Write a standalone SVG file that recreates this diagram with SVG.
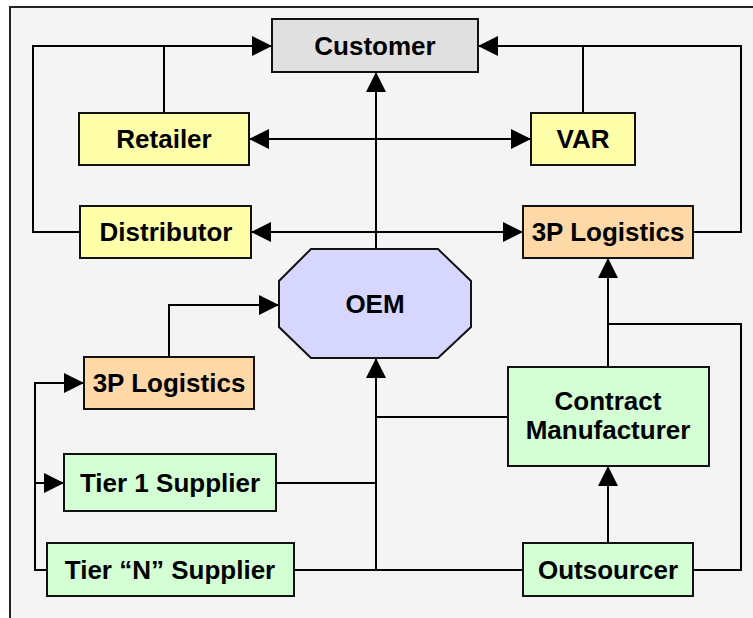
<svg xmlns="http://www.w3.org/2000/svg" width="753" height="618" viewBox="0 0 753 618">
  <style>
    .box { stroke: #111; stroke-width: 2; }
    .yellow { fill: #ffffaa; }
    .orange { fill: #ffd8a8; }
    .green { fill: #d4ffd4; }
    .grey { fill: #e0e0e0; }
    .violet { fill: #d6d6ff; }
    .lbl { font-family: "Liberation Sans", Arial, sans-serif; font-weight: bold; font-size: 26px; fill: #000; text-anchor: middle; }
    .wire { fill: none; stroke: #000; stroke-width: 2; }
    .arr { marker-end: url(#head); }
    .arr2 { marker-end: url(#head); marker-start: url(#head); }
  </style>
  <defs>
    <marker id="head" markerUnits="userSpaceOnUse" markerWidth="20" markerHeight="20" viewBox="0 0 20 20" refX="20" refY="10" orient="auto-start-reverse">
      <path d="M0,0 L20,10 L0,20 z" fill="#000"/>
    </marker>
  </defs>

  <!-- page and frame -->
  <rect x="0" y="0" width="753" height="618" fill="#ffffff"/>
  <rect x="10" y="7" width="800" height="700" fill="#f4f4f4" stroke="#222" stroke-width="2"/>

  <!-- connectors -->
  <g id="connectors">
    <!-- left loop into Customer -->
    <path class="wire" d="M80,232 H33 V46 H272" marker-end="url(#head)"/>
    <path class="wire" d="M164,113 V46"/>
    <!-- right loop into Customer -->
    <path class="wire" d="M693,232 H741 V46 H478" marker-end="url(#head)"/>
    <path class="wire" d="M583,113 V46"/>
    <!-- OEM up to Customer -->
    <path class="wire arr" d="M376,249 V72"/>
    <!-- OEM to Retailer / VAR -->
    <path class="wire arr2" d="M249,139 H531"/>
    <!-- OEM to Distributor / 3P Logistics -->
    <path class="wire arr2" d="M251,232 H523"/>
    <!-- inbound 3P Logistics to OEM -->
    <path class="wire arr" d="M169,357 V305 H279"/>
    <!-- Tier N feeds 3P Logistics and Tier 1 -->
    <path class="wire arr" d="M47,570 H35 V383 H84"/>
    <path class="wire arr" d="M35,483 H64"/>
    <!-- suppliers and contract manufacturer into OEM -->
    <path class="wire arr" d="M376,570 V358"/>
    <path class="wire" d="M276,483 H376"/>
    <path class="wire" d="M294,570 H523"/>
    <path class="wire" d="M508,417 H376"/>
    <!-- contract manufacturer to 3P Logistics -->
    <path class="wire arr" d="M608,367 V258"/>
    <path class="wire" d="M608,324 H741 V570 H693"/>
    <!-- outsourcer to contract manufacturer -->
    <path class="wire arr" d="M608,543 V466"/>
  </g>

  <!-- nodes -->
  <g id="customer">
    <rect class="box grey" x="272" y="19" width="206" height="53"/>
    <text class="lbl" x="375" y="55">Customer</text>
  </g>
  <g id="retailer">
    <rect class="box yellow" x="79" y="113" width="170" height="52"/>
    <text class="lbl" x="164" y="148">Retailer</text>
  </g>
  <g id="var">
    <rect class="box yellow" x="531" y="113" width="104" height="52"/>
    <text class="lbl" x="583" y="148">VAR</text>
  </g>
  <g id="distributor">
    <rect class="box yellow" x="80" y="206" width="171" height="52"/>
    <text class="lbl" x="166" y="241">Distributor</text>
  </g>
  <g id="logistics-out">
    <rect class="box orange" x="523" y="206" width="170" height="52"/>
    <text class="lbl" x="608" y="241">3P Logistics</text>
  </g>
  <g id="oem">
    <polygon class="box violet" points="311,249 438,249 471,281 471,327 438,358 311,358 279,327 279,281"/>
    <text class="lbl" x="375" y="313">OEM</text>
  </g>
  <g id="logistics-in">
    <rect class="box orange" x="84" y="357" width="170" height="52"/>
    <text class="lbl" x="169" y="392">3P Logistics</text>
  </g>
  <g id="contract-manufacturer">
    <rect class="box green" x="508" y="367" width="201" height="99"/>
    <text class="lbl" x="608" y="410">Contract</text>
    <text class="lbl" x="608" y="439">Manufacturer</text>
  </g>
  <g id="tier1">
    <rect class="box green" x="64" y="454" width="212" height="57"/>
    <text class="lbl" x="170" y="492">Tier 1 Supplier</text>
  </g>
  <g id="tierN">
    <rect class="box green" x="47" y="543" width="247" height="53"/>
    <text class="lbl" x="170" y="579">Tier “N” Supplier</text>
  </g>
  <g id="outsourcer">
    <rect class="box green" x="523" y="543" width="170" height="53"/>
    <text class="lbl" x="608" y="579">Outsourcer</text>
  </g>
</svg>
